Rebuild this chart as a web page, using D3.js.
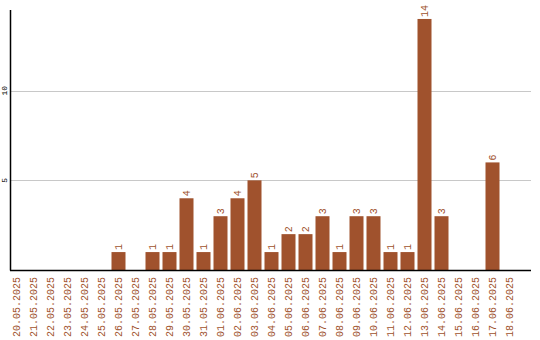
<!DOCTYPE html>
<html><head><meta charset="utf-8">
<script src="https://cdn.jsdelivr.net/npm/d3@7"></script>
<style>body{margin:0;background:#fff}svg{display:block}</style>
</head><body>
<svg id="c" width="540" height="340"></svg>
<script>
const dates = ["20.05.2025","21.05.2025","22.05.2025","23.05.2025","24.05.2025","25.05.2025","26.05.2025","27.05.2025","28.05.2025","29.05.2025","30.05.2025","31.05.2025","01.06.2025","02.06.2025","03.06.2025","04.06.2025","05.06.2025","06.06.2025","07.06.2025","08.06.2025","09.06.2025","10.06.2025","11.06.2025","12.06.2025","13.06.2025","14.06.2025","15.06.2025","16.06.2025","17.06.2025","18.06.2025"];
const counts = [0,0,0,0,0,0,1,0,1,1,4,1,3,4,5,1,2,2,3,1,3,3,1,1,14,3,0,0,6,0];
const yTicks = [5,10];

const svg = d3.select("#c");
const color = "#a0522d";
const x = d3.scaleBand().domain(dates).range([8,518]).paddingInner(3/17).paddingOuter(3/34);
const y = d3.scaleLinear().domain([0,14.5]).range([270,10]);

// gridlines
svg.append("g").selectAll("line").data(yTicks).join("line")
  .attr("x1",10.5).attr("x2",531).attr("y1",d=>Math.round(y(d))+0.5).attr("y2",d=>Math.round(y(d))+0.5)
  .attr("stroke","#c8c8c8").attr("stroke-width",1);
svg.append("g").selectAll("text").data(yTicks).join("text")
  .attr("transform",d=>`translate(7,${y(d)}) rotate(-90)`)
  .attr("text-anchor","middle").attr("font-family","Liberation Mono, DejaVu Sans Mono, monospace")
  .attr("font-size",8).attr("fill","#000").text(d=>d);

// bars
svg.append("g").selectAll("rect").data(counts).join("rect")
  .attr("x",(d,i)=>x(dates[i])).attr("width",x.bandwidth())
  .attr("y",d=>y(d)).attr("height",d=>y(0)-y(d)).attr("fill",color);

// value labels
svg.append("g").selectAll("text").data(counts.map((v,i)=>({v,i})).filter(d=>d.v>0)).join("text")
  .attr("transform",d=>`translate(${x(dates[d.i])+x.bandwidth()/2+3.5},${y(d.v)-2}) rotate(-90)`)
  .attr("text-anchor","start").attr("font-family","Liberation Mono, DejaVu Sans Mono, monospace")
  .attr("font-size",10).attr("fill",color).text(d=>d.v);

// x labels
svg.append("g").selectAll("text").data(dates).join("text")
  .attr("transform",d=>`translate(${x(d)+x.bandwidth()/2+3.5},277) rotate(-90)`)
  .attr("text-anchor","end").attr("font-family","Liberation Mono, DejaVu Sans Mono, monospace")
  .attr("font-size",10).attr("fill",color).text(d=>d);

// axes lines
svg.append("line").attr("x1",10.5).attr("x2",10.5).attr("y1",10).attr("y2",270.5).attr("stroke","#000").attr("stroke-width",1.5);
svg.append("line").attr("x1",10).attr("x2",531).attr("y1",270.5).attr("y2",270.5).attr("stroke","#000").attr("stroke-width",1.5);
</script>
</body></html>
